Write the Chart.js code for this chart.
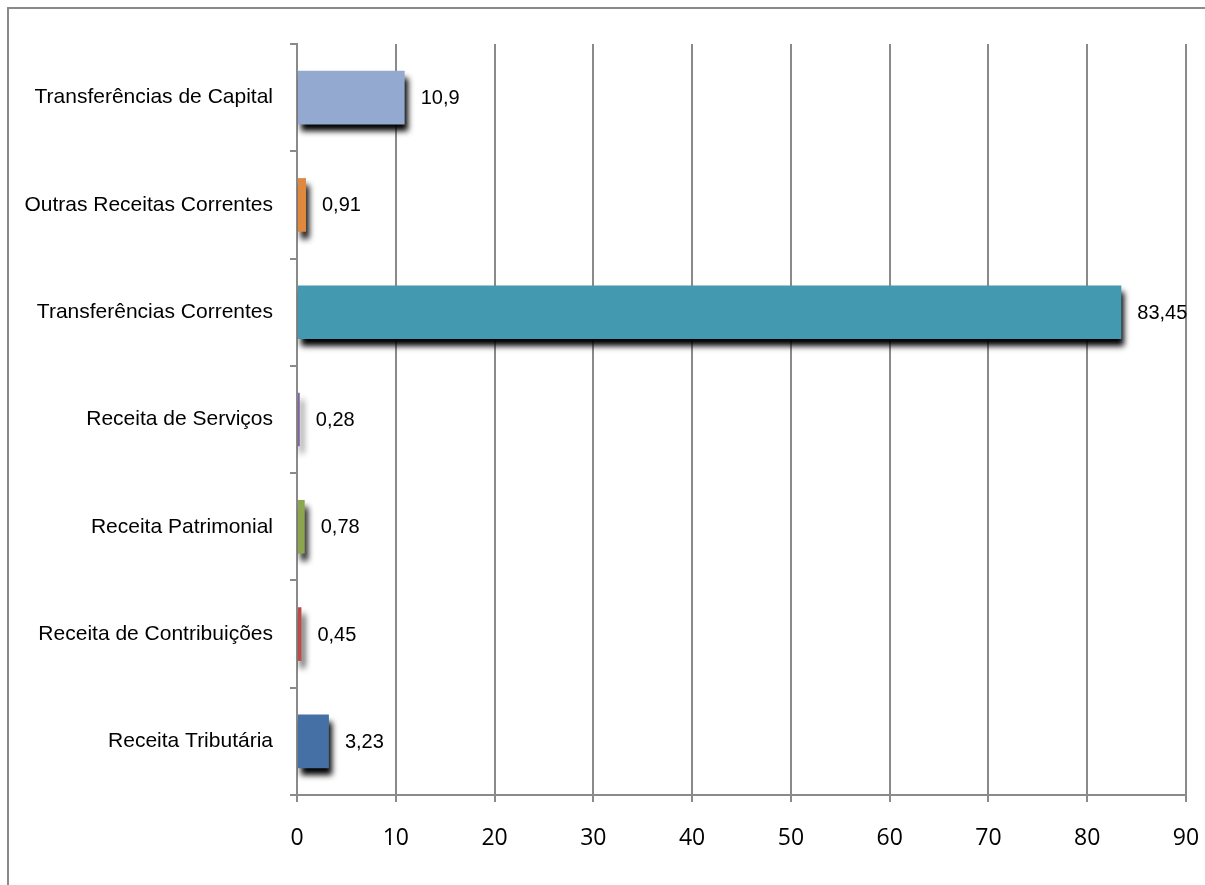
<!DOCTYPE html>
<html>
<head>
<meta charset="utf-8">
<script src="https://cdn.jsdelivr.net/npm/chart.js@4"></script>
<style>
  html, body { margin: 0; padding: 0; background: #fff; overflow: hidden; }
  #wrap { position: relative; width: 1205px; height: 885px; overflow: hidden; }
  #frame { position: absolute; left: 7px; top: 7px; width: 1230px; height: 920px; border: 2px solid #8a8a8a; box-sizing: border-box; }
  canvas { position: absolute; left: 0; top: 0; }
</style>
</head>
<body>
<div id="wrap">
  <div id="frame"></div>
  <canvas id="c" width="1205" height="885"></canvas>
</div>
<script>
// Categories listed top to bottom as they appear
const categories = [
  'Transferências de Capital',
  'Outras Receitas Correntes',
  'Transferências Correntes',
  'Receita de Serviços',
  'Receita Patrimonial',
  'Receita de Contribuições',
  'Receita Tributária'
];
const values = [10.9, 0.91, 83.45, 0.28, 0.78, 0.45, 3.23];
const barColors = ['#93A9D0', '#E0883E', '#4399AF', '#7F64A2', '#8CA650', '#BE4B48', '#4470A6'];
const xTicks = [0, 10, 20, 30, 40, 50, 60, 70, 80, 90];

const shadowPlugin = {
  id: 'shadow',
  beforeDatasetsDraw(chart) {
    const ctx = chart.ctx;
    ctx.save();
    ctx.shadowColor = 'rgba(0,0,0,1)';
    ctx.shadowOffsetX = 3;
    ctx.shadowOffsetY = 7;
    ctx.shadowBlur = 6;
  },
  afterDatasetsDraw(chart) {
    const ctx = chart.ctx;
    ctx.restore();
    const meta = chart.getDatasetMeta(0);
    ctx.save();
    ctx.font = '20px "Liberation Sans", Arial, sans-serif';
    ctx.fillStyle = '#000';
    ctx.textAlign = 'left';
    ctx.textBaseline = 'middle';
    meta.data.forEach((bar, i) => {
      const txt = String(values[i]).replace('.', ',');
      ctx.fillText(txt, bar.x + 16, bar.y + 1);
    });
    ctx.restore();
  }
};

new Chart(document.getElementById('c'), {
  type: 'bar',
  data: {
    labels: categories,
    datasets: [{
      data: values,
      backgroundColor: barColors,
      borderWidth: 0,
      barPercentage: 0.5,
      categoryPercentage: 1.0
    }]
  },
  options: {
    indexAxis: 'y',
    responsive: false,
    animation: false,
    devicePixelRatio: 1,
    layout: { padding: { left: 0, top: 44, right: 19, bottom: 0 } },
    plugins: { legend: { display: false }, tooltip: { enabled: false } },
    scales: {
      x: {
        min: 0, max: 90,
        afterBuildTicks(scale) { scale.ticks = xTicks.map(v => ({ value: v })); },
        afterFit(scale) {
          scale.height = 885 - 795;
          scale.paddingLeft = 0;
          scale.paddingRight = 0;
        },
        ticks: {
          color: '#000',
          font: { family: '"Open Sans", sans-serif', size: 23 },
          padding: 23,
          maxRotation: 0
        },
        grid: { color: '#8a8a8a', lineWidth: 2, tickLength: 7, drawTicks: true },
        border: { display: true, color: '#8a8a8a', width: 2 }
      },
      y: {
        afterFit(scale) {
          scale.width = 297;
          scale.paddingTop = 0;
          scale.paddingBottom = 0;
        },
        ticks: {
          color: '#000',
          font: { family: '"Liberation Sans", Arial, sans-serif', size: 21 },
          padding: 17
        },
        grid: { display: true, drawOnChartArea: false, drawTicks: true, tickLength: 7, color: '#8a8a8a', lineWidth: 2, offset: true },
        border: { display: true, color: '#8a8a8a', width: 2 }
      }
    }
  },
  plugins: [shadowPlugin]
});
</script>
</body>
</html>
